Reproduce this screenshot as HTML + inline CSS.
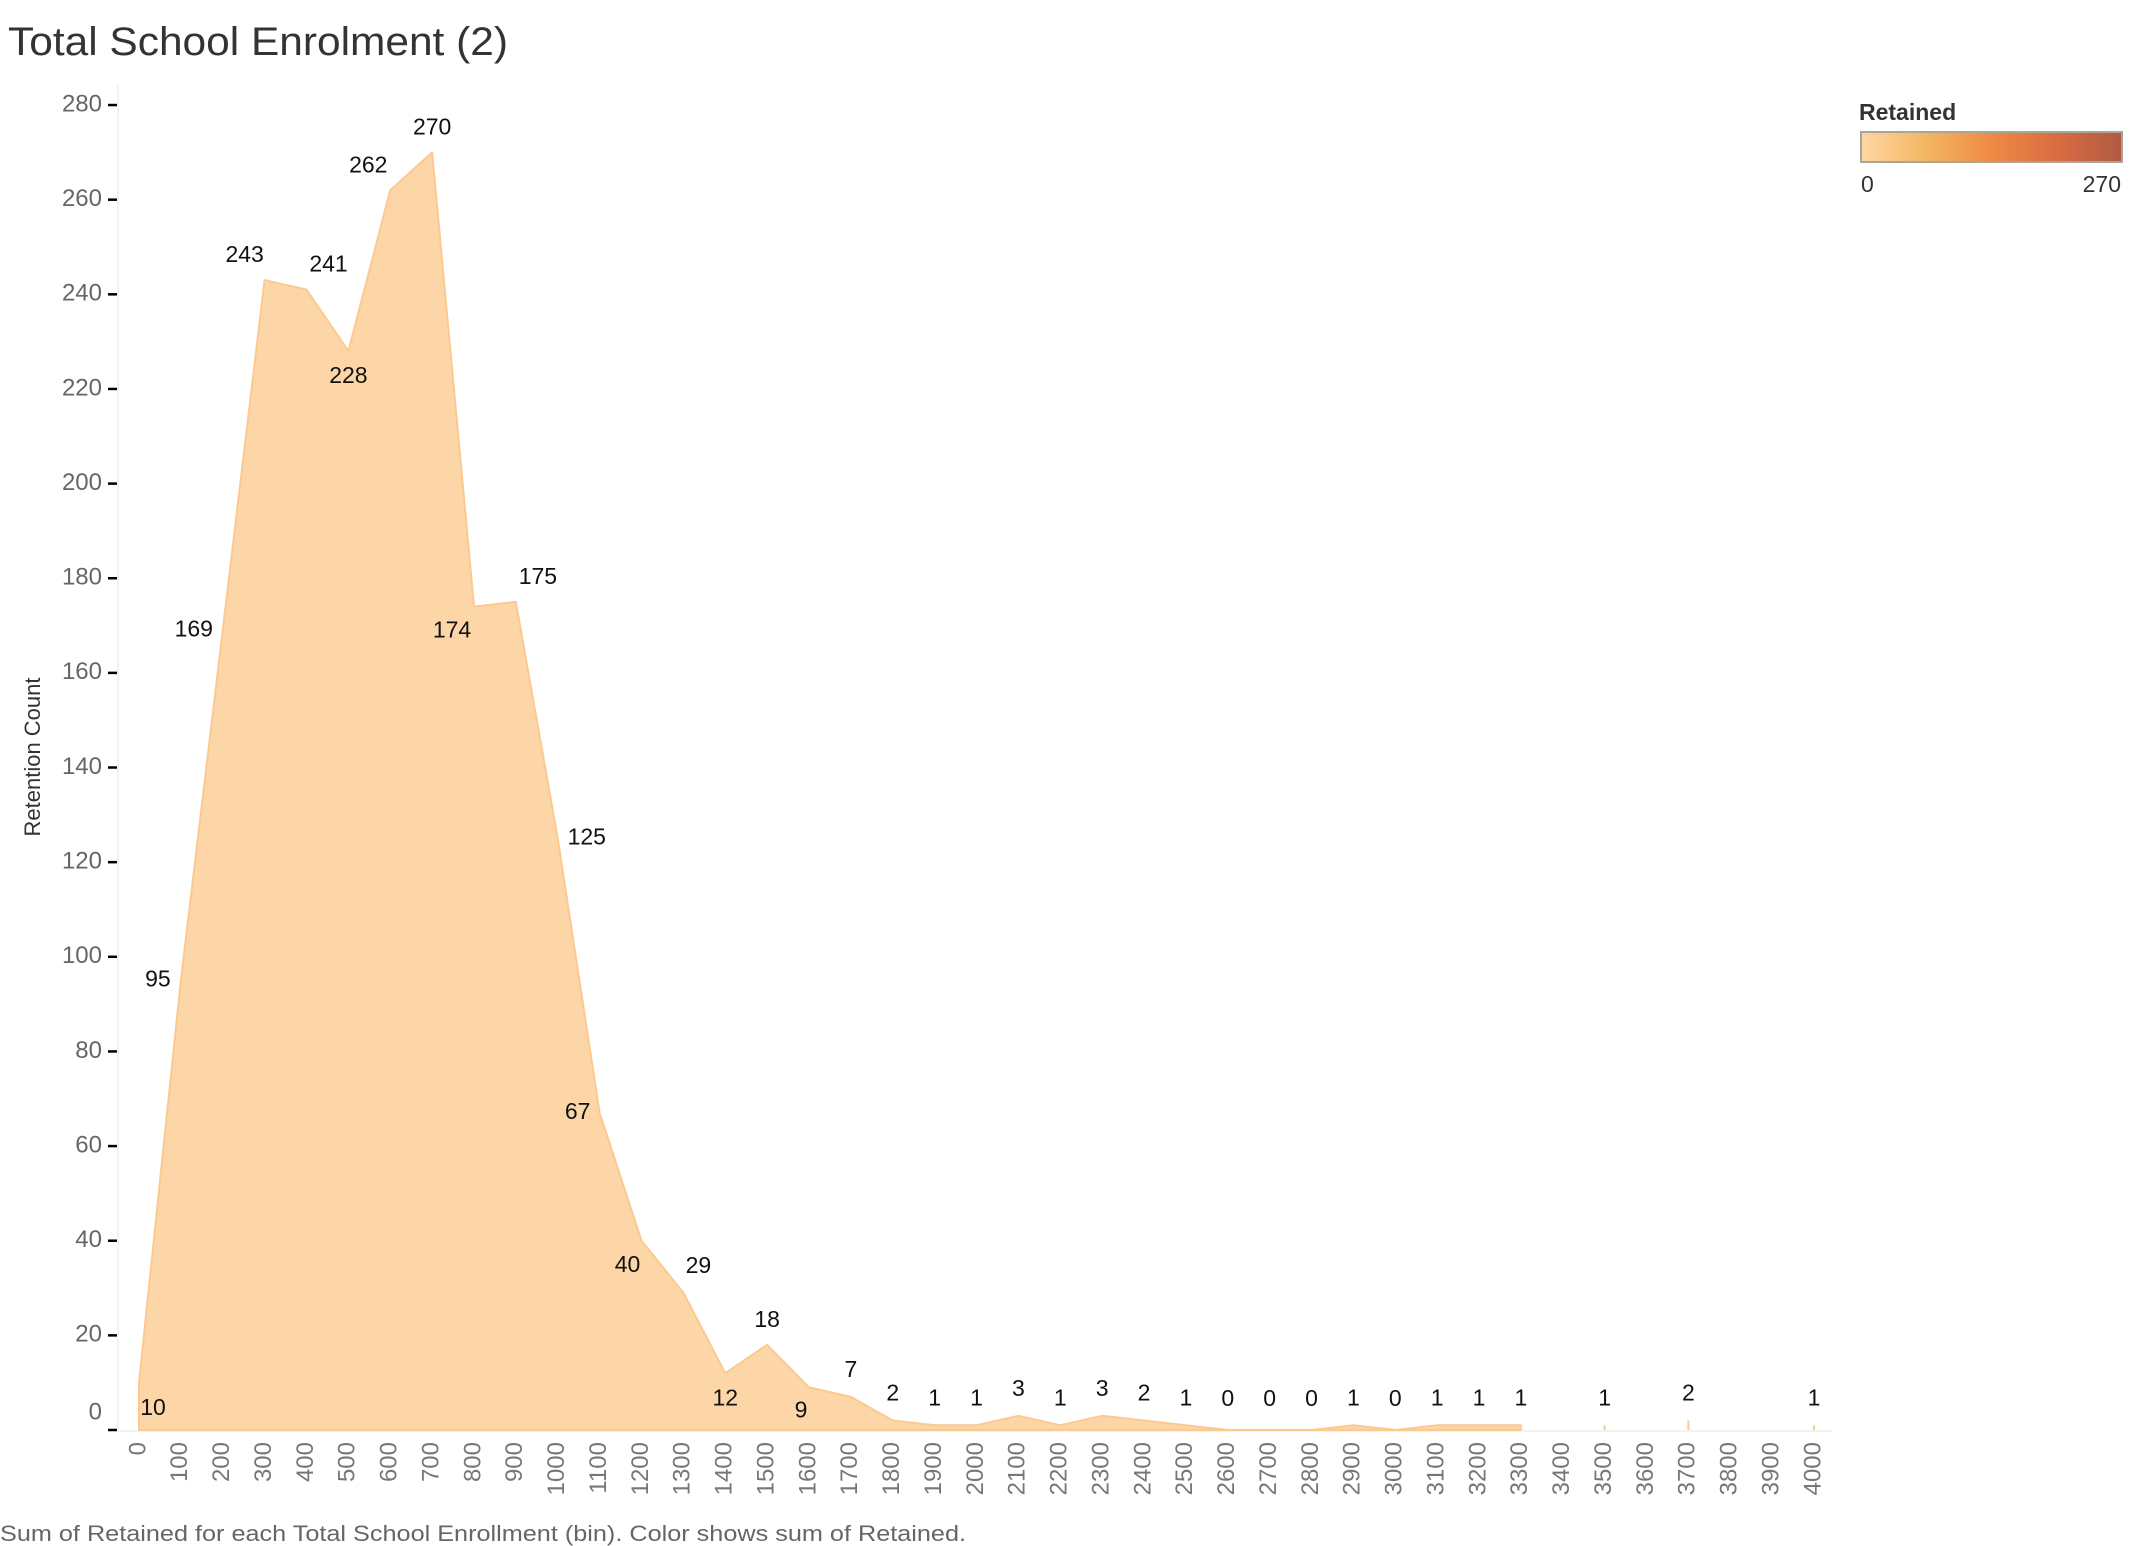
<!DOCTYPE html>
<html><head><meta charset="utf-8">
<style>
html,body{margin:0;padding:0;background:#fff;}
svg{display:block;font-family:"Liberation Sans",sans-serif;}
</style></head>
<body>
<svg id="chart" width="2132" height="1546" viewBox="0 0 2132 1546" xmlns="http://www.w3.org/2000/svg">
<defs>
<linearGradient id="legGrad" x1="0" x2="1" y1="0" y2="0">
<stop offset="0" stop-color="#fdd7a2"/>
<stop offset="0.25" stop-color="#f4b662"/>
<stop offset="0.5" stop-color="#ee8a44"/>
<stop offset="0.75" stop-color="#d96c42"/>
<stop offset="1" stop-color="#b05a42"/>
</linearGradient>
</defs>
<text x="8" y="55" font-size="40" fill="#333" textLength="500" lengthAdjust="spacingAndGlyphs">Total School Enrolment (2)</text>
<text transform="translate(40,757) rotate(-90)" text-anchor="middle" font-size="22" fill="#333">Retention Count</text>
<g id="legend">
<text x="1859" y="120" font-size="23" font-weight="bold" fill="#333">Retained</text>
<rect x="1861" y="132" width="261" height="30" fill="url(#legGrad)" stroke="#aaa59a" stroke-width="2"/>
<text x="1861" y="192" font-size="23" fill="#333">0</text>
<text x="2121" y="192" font-size="23" fill="#333" text-anchor="end">270</text>
</g>
<g id="axes"></g>
<g id="marks"></g>
<g id="labels"></g>
<text x="0" y="1541" font-size="22" fill="#666" textLength="966" lengthAdjust="spacingAndGlyphs">Sum of Retained for each Total School Enrollment (bin).  Color shows sum of Retained.</text>
</svg>
<script>
const categories = [0,100,200,300,400,500,600,700,800,900,1000,1100,1200,1300,1400,1500,1600,1700,1800,1900,2000,2100,2200,2300,2400,2500,2600,2700,2800,2900,3000,3100,3200,3300,3400,3500,3600,3700,3800,3900,4000];
const retained = [10,95,169,243,241,228,262,270,174,175,125,67,40,29,12,18,9,7,2,1,1,3,1,3,2,1,0,0,0,1,0,1,1,1,null,1,null,2,null,null,1];
const yTicks = [0,20,40,60,80,100,120,140,160,180,200,220,240,260,280];
// label offsets (style, not data)
const labelDx = [14,-23,-29,-20,22,0,-22,0,-22,22,29,-22,-14,15,0,0,-8,0];
const labelDy = [26,0,0,-24,-24,26,-24,-24,25,-24,0,0,25,-26,26,-24,24,-26];

const NS = "http://www.w3.org/2000/svg";
const x0 = 139, step = 41.875, yZero = 1430, yScale = 4.732;
function xPos(i){ return x0 + i*step; }
function yPos(v){ return yZero - v*yScale; }
function mk(tag, attrs, parent){ const e=document.createElementNS(NS,tag); for(const k in attrs) e.setAttribute(k,attrs[k]); parent.appendChild(e); return e; }

const axes = document.getElementById('axes');
const marks = document.getElementById('marks');
const labels = document.getElementById('labels');

const yAxisLine = mk('line',{x1:118,y1:85,x2:118,y2:yZero,stroke:'#eee','stroke-width':1.5},axes);


const xAxisLine = mk('line',{x1:118,y1:yZero+1,x2:1832,y2:yZero+1,stroke:'#eee','stroke-width':1.5},axes);



yTicks.forEach(t=>{
  const y = yPos(t);
  const tk = mk('line',{x1:108,y1:y,x2:117,y2:y,stroke:'#000','stroke-width':2.5},axes);
  
  
  const ty = t===0 ? y-17 : y;
  const lb = mk('text',{x:102,y:ty,'text-anchor':'end','dominant-baseline':'middle','font-size':24,fill:'#666'},axes);
  lb.textContent = t;
  
  
});

categories.forEach((c,i)=>{
  const x = xPos(i);
  const lb = mk('text',{transform:`translate(${x},${yZero+12}) rotate(-90)`,'text-anchor':'end','dominant-baseline':'middle','font-size':24,fill:'#777'},axes);
  lb.textContent = c;
  
  
});

let seg = [];
function flush(){
  if(seg.length>1){
    let d = `M${xPos(seg[0])},${yZero}`;
    seg.forEach(i=>{ d += ` L${xPos(i)},${yPos(retained[i])}`; });
    d += ` L${xPos(seg[seg.length-1])},${yZero} Z`;
    const p = mk('path',{d:d,fill:'#fdd6a8',stroke:'#fcc98f','stroke-width':2,'stroke-linejoin':'round'},marks);
    
    
  } else if(seg.length===1){
    const i = seg[0];
    const ln = mk('line',{x1:xPos(i),y1:yZero,x2:xPos(i),y2:Math.min(yPos(retained[i]),yZero-4),stroke:'#fcc98f','stroke-width':2},marks);
    
    
  }
  seg = [];
}
retained.forEach((v,i)=>{ if(v===null) flush(); else seg.push(i); });
flush();

retained.forEach((v,i)=>{
  if(v===null) return;
  const dx = i<labelDx.length ? labelDx[i] : 0;
  const dy = i<labelDy.length ? labelDy[i] : -26;
  let y = yPos(v)+dy;
  if(i>=labelDy.length) y = Math.min(y, yZero-30);
  const lb = mk('text',{x:xPos(i)+dx,y:y,'text-anchor':'middle','dominant-baseline':'middle','font-size':23,fill:'#111'},labels);
  lb.textContent = v;
  
  
});
</script>
</body></html>
